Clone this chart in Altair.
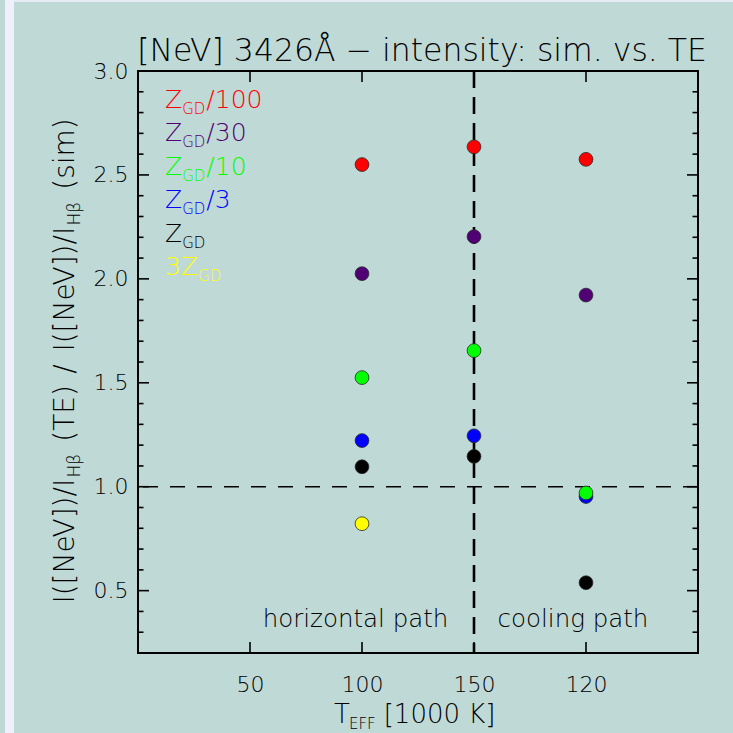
import altair as alt
import pandas as pd

# ---------------- data ----------------
series = ["Z_GD/100", "Z_GD/30", "Z_GD/10", "Z_GD/3", "Z_GD", "3Z_GD"]
colors = ["#ff0000", "#500072", "#00ff00", "#0000ff", "#000000", "#ffff00"]
x_positions = [100, 150, 200]          # 200 is shown as "120" (cooling path)
vals_100 = [2.55, 2.025, 1.525, 1.222, 1.096, 0.822]
vals_150 = [2.635, 2.203, 1.655, 1.245, 1.146, None]
vals_200 = [2.575, 1.922, 0.970, 0.953, 0.538, None]

x_tick_values = [50, 100, 150, 200]
x_tick_labels = ["50", "100", "150", "120"]
y_major = [0.5, 1.0, 1.5, 2.0, 2.5, 3.0]
y_minor = [0.3, 0.4, 0.6, 0.7, 0.8, 0.9, 1.1, 1.2, 1.3, 1.4, 1.6, 1.7, 1.8, 1.9,
           2.1, 2.2, 2.3, 2.4, 2.6, 2.7, 2.8, 2.9]
split_x = [150]
unity_y = [1.0]

legend_main = ["Z", "Z", "Z", "Z", "Z", "3Z"]
legend_tail = ["/100", "/30", "/10", "/3", "", ""]

# draw order (blue below green at the cooling path)
draw_order = ["3Z_GD", "Z_GD", "Z_GD/3", "Z_GD/10", "Z_GD/30", "Z_GD/100"]
rows = []
for s in draw_order:
    i = series.index(s)
    for xp, arr in zip(x_positions, [vals_100, vals_150, vals_200]):
        if arr[i] is not None:
            rows.append({"x": xp, "y": arr[i], "s": s})
df = pd.DataFrame(rows)

# ---------------- style ----------------
W, H = 560, 582
BG = "#bfd9d7"
FONT = "DejaVu Sans"
FW = 200

xscale = alt.Scale(domain=[0, 250], nice=False, zero=False)
yscale = alt.Scale(domain=[0.2, 3.0], nice=False, zero=False)

expr = "''"
for v, l in zip(reversed(x_tick_values), reversed(x_tick_labels)):
    expr = f"datum.value == {v} ? '{l}' : ({expr})"

xaxis = alt.Axis(values=x_tick_values, labelExpr=expr, ticks=False, tickSize=0,
                 domain=False, grid=False, labelFontSize=22, labelFont=FONT,
                 labelFontWeight=FW, labelColor="black", labelBaseline="middle",
                 labelPadding=31, title=None)
yaxis = alt.Axis(values=y_major, format=".1f", ticks=False, tickSize=0,
                 domain=False, grid=False, labelFontSize=22, labelFont=FONT,
                 labelFontWeight=FW, labelColor="black", labelPadding=10,
                 title=None)


def X(f="x"):
    return alt.X(f"{f}:Q", scale=xscale, axis=xaxis, title=None)


def Y(f="y"):
    return alt.Y(f"{f}:Q", scale=yscale, axis=yaxis, title=None)


points = alt.Chart(df).mark_circle(size=190, opacity=1, stroke="#2a2a2a",
                                   strokeWidth=0.8).encode(
    x=X(), y=Y(),
    color=alt.Color("s:N", scale=alt.Scale(domain=series, range=colors),
                    legend=None),
)

vline = alt.Chart(pd.DataFrame({"x": split_x})).mark_rule(
    color="black", strokeWidth=2.6, strokeDash=[17, 9]).encode(x=X())
hline = alt.Chart(pd.DataFrame({"y": unity_y})).mark_rule(
    color="black", strokeWidth=1.4, strokeDash=[15, 12]).encode(y=Y())

ymaj = pd.DataFrame({"y": y_major})
ymin = pd.DataFrame({"y": y_minor})
xmaj = pd.DataFrame({"x": x_tick_values})
tk = dict(color="black", strokeWidth=1.6)
ticks = [
    alt.Chart(ymaj).mark_rule(**tk).encode(y=Y(), x=alt.value(0), x2=alt.value(11)),
    alt.Chart(ymin).mark_rule(**tk).encode(y=Y(), x=alt.value(0), x2=alt.value(5.5)),
    alt.Chart(ymaj).mark_rule(**tk).encode(y=Y(), x=alt.value(W), x2=alt.value(W - 11)),
    alt.Chart(ymin).mark_rule(**tk).encode(y=Y(), x=alt.value(W), x2=alt.value(W - 5.5)),
    alt.Chart(xmaj).mark_rule(**tk).encode(x=X(), y=alt.value(H), y2=alt.value(H - 11)),
    alt.Chart(xmaj).mark_rule(**tk).encode(x=X(), y=alt.value(0), y2=alt.value(11)),
]

one = pd.DataFrame({"a": [0]})


def txt(s, x, y, size, color="black", align="left", angle=0):
    return alt.Chart(one).mark_text(
        text=s, font=FONT, fontWeight=FW, fontSize=size, color=color,
        align=align, baseline="alphabetic", angle=angle).encode(
        x=alt.value(x), y=alt.value(y))


# approximate DejaVu Sans advance widths (em)
CW = {' ': .318, '(': .390, ')': .390, '[': .390, ']': .390, '/': .337,
      'I': .295, 'N': .748, 'e': .615, 'V': .684, 'H': .752, 'β': .627,
      'T': .611, 'E': .632, 's': .521, 'i': .278, 'm': .974, '.': .318,
      'K': .656, 'F': .575, 'G': .775, 'D': .770, 'Z': .685}


def tw(s, size, f=1.0):
    return sum(CW.get(c, .636) for c in s) * size * f


texts = []
# title
texts.append(txt("[NeV] 3426Å − intensity: sim. vs. TE", 569, -10, 31.5,
                 align="right"))

# legend
MAIN, SUB = 25, 15
for k in range(len(series)):
    bx, by = 27, 37 + k * 33.4
    c = colors[k]
    texts.append(txt(legend_main[k], bx, by, MAIN, c))
    sx = bx + tw(legend_main[k], MAIN)
    texts.append(txt("GD", sx, by + 6, SUB, c))
    if legend_tail[k]:
        texts.append(txt(legend_tail[k], sx + tw("GD", SUB) + 1, by, MAIN, c))

# path annotations
texts.append(txt("horizontal path", 217.5, 556, 24.5, align="center"))
texts.append(txt("cooling path", 435, 556, 24.5, align="center"))

# x title: T_EFF [1000 K]
xt0, xb = 196, 652
texts.append(txt("T", xt0, xb, 26))
texts.append(txt("EFF", xt0 + 15, xb + 6, 15))
texts.append(txt("[1000 K]", xt0 + 15 + tw("EFF", 15) + 8, xb, 26))

# y title (rotated), built piecewise bottom-to-top: (text, size, x-offset, gap before)
YM, YS, GAP = 28, 17, 13
ypieces = [("I([NeV])/I", YM, 0, 0), ("Hβ", YS, 6, 3), ("(TE)", YM, 0, GAP),
           ("/", YM, 0, GAP), ("I([NeV])/I", YM, 0, GAP), ("Hβ", YS, 6, 3),
           ("(sim)", YM, 0, GAP)]
FAC = 0.97
total = sum(tw(p, s, FAC) + g for p, s, _, g in ypieces)
cy = H / 2 + total / 2
bx = -64
for p, s, off, g in ypieces:
    cy -= g
    texts.append(txt(p, bx + off, cy, s, angle=270))
    cy -= tw(p, s, FAC)

# decorative light strips at the page edges
strip = alt.Chart(one).mark_rect(color="#f0f0fa").encode(
    x=alt.value(-133), x2=alt.value(-124), y=alt.value(-71), y2=alt.value(H + 80))
topstrip = alt.Chart(one).mark_rect(color="#e6ecf3").encode(
    x=alt.value(-124), x2=alt.value(W + 35), y=alt.value(-71), y2=alt.value(-69))

chart = alt.layer(strip, topstrip, hline, vline, *ticks, points, *texts).properties(
    width=W, height=H,
    padding={"left": 138, "top": 71, "right": 35, "bottom": 80},
    autosize=alt.AutoSizeParams(type="none"),
    background=BG,
).configure_view(stroke="black", strokeWidth=2, fill=BG)

chart.save("out.html", embed_options={"renderer": "svg", "actions": False})
